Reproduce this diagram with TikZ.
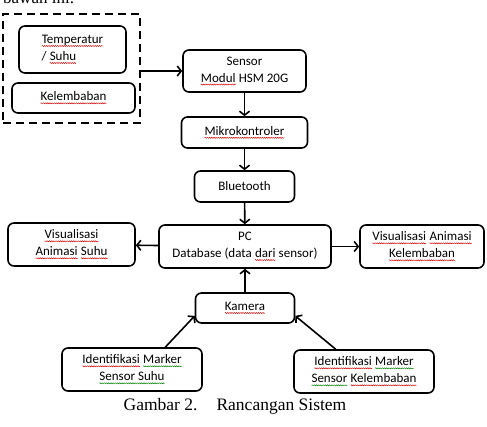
\documentclass[tikz,border=0pt]{standalone}
\usepackage{fontspec}
\setmainfont{Carlito}
\newfontfamily\capfont{Liberation Serif}
\usetikzlibrary{arrows.meta,calc,decorations.pathmorphing}
\tikzset{gelombang/.style={solid, line width=0.45pt, rounded corners=0pt, decorate, decoration={zigzag, amplitude=0.55pt, segment length=2.2pt}}}
\newcommand\garisbawah[2]{\tikz[baseline=(w.base), x=1cm, y=1cm, line width=0.4pt, solid]{\node[inner sep=0pt, outer sep=0pt, draw=none, minimum width=0pt, minimum height=0pt, rounded corners=0pt] (w) {#2}; \draw[gelombang, #1] ([yshift=-2.4pt]w.base west) -- ([yshift=-2.4pt]w.base east);}}
\newcommand\merah[1]{\garisbawah{red!85!black}{#1}}
\newcommand\hijau[1]{\garisbawah{green!50!black}{#1}}

\begin{document}
\begin{tikzpicture}[x=1pt, y=-1pt]
        \tikzstyle{kotak}=[draw, rounded corners=6pt, line width=1.6pt, align=center, inner sep=2pt, font=\fontsize{13}{17}\selectfont]
        \tikzstyle{panah}=[line width=1.6pt, -{Straight Barb[length=4pt, width=10pt, line width=1.6pt]}]

        \useasboundingbox (0,0) rectangle (487,426);

% sisa teks paragraf di atas gambar
        \node[anchor=base west, inner sep=0pt, font=\fontsize{17}{20}\selectfont\capfont] (atas) at (3,3) {bawah ini.};

% kelompok sensor (garis putus-putus)
        \node[draw, dashed, dash pattern=on 8pt off 5pt, line width=1.6pt, minimum width=137pt, minimum height=109pt] (grup) at (71.5,68.5) {};
        \node[kotak, align=left, minimum width=107pt, minimum height=47pt] (suhu) at (72.5,49.5) {\merah{Temperatur}\\/ \merah{Suhu}};
        \node[kotak, minimum width=123pt, minimum height=30pt] (lembab) at (73.5,98) {\merah{Kelembaban}};

% jalur utama
        \node[kotak, minimum width=123pt, minimum height=42pt] (sensor) at (244.5,71) {Sensor\\\merah{Modul} HSM 20G};
        \node[kotak, minimum width=126pt, minimum height=31pt] (mikro) at (244.5,132.5) {\merah{Mikrokontroler}};
        \node[kotak, minimum width=100pt, minimum height=31pt] (bt) at (244.5,186.5) {Bluetooth};
        \node[kotak, minimum width=172pt, minimum height=43pt] (pc) at (245,246.5) {PC\\Database (data \merah{dari} sensor)};
        \node[kotak, minimum width=127pt, minimum height=43pt] (vsuhu) at (71.5,244.5) {\merah{Visualisasi}\\\merah{Animasi} \merah{Suhu}};
        \node[kotak, minimum width=124pt, minimum height=43pt] (vlembab) at (422,246.5) {\merah{Visualisasi} \merah{Animasi}\\\merah{Kelembaban}};
        \node[kotak, minimum width=99pt, minimum height=30pt] (kamera) at (245,308) {\merah{Kamera}};
        \node[kotak, minimum width=140pt, minimum height=43pt] (idsuhu) at (132,369.5) {\merah{Identifikasi} \hijau{Marker}\\\hijau{Sensor Suhu}};
        \node[kotak, minimum width=140pt, minimum height=43pt] (idlembab) at (364,371.5) {\merah{Identifikasi} \hijau{Marker}\\\hijau{Sensor} \merah{Kelembaban}};

        \draw[panah] (grup.east |- sensor.west) -- (sensor.west);
        \draw[panah] (sensor) -- (mikro);
        \draw[panah] (mikro) -- (bt);
        \draw[panah] (bt) -- (pc);
        \draw[panah] (pc) -- (vsuhu);
        \draw[panah] (pc) -- (vlembab);
        \draw[panah] (kamera) -- (pc);
        \draw[panah] ($(idsuhu.north)!0.47!(idsuhu.north east)$) -- ($(kamera.west)!0.5!(kamera.south west)$);
        \draw[panah] ($(idlembab.north)!0.4!(idlembab.north west)$) -- ($(kamera.east)!0.5!(kamera.south east)$);

        \node[font=\fontsize{17.5}{20}\selectfont\capfont] (judul) at (235,406) {Gambar 2.\hspace{19pt}Rancangan Sistem};

    \end{tikzpicture}
\end{document}
